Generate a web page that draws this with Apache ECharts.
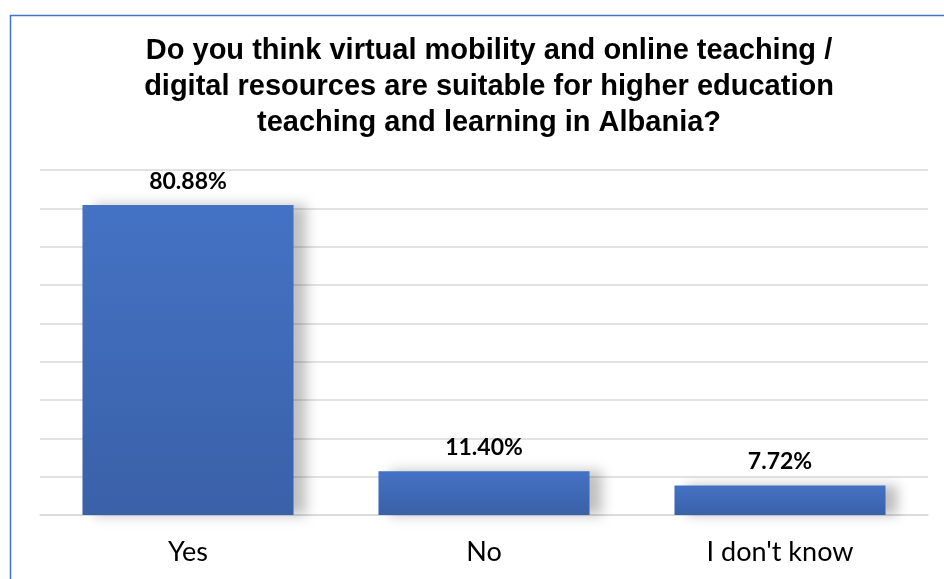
<!DOCTYPE html>
<html><head><meta charset="utf-8">
<script src="https://cdn.jsdelivr.net/npm/echarts@6/dist/echarts.min.js"></script>
<style>html,body{margin:0;padding:0;background:#fff}#c{width:944px;height:579px}</style>
</head><body><div id="c"></div>
<script>
const categories = ['Yes', 'No', "I don't know"];
const values = [80.88, 11.40, 7.72];
const titleLines = ['Do you think virtual mobility and online teaching /', 'digital resources are suitable for higher education', 'teaching and learning in Albania?'];

const chart = echarts.init(document.getElementById('c'), null, {renderer: 'canvas'});
chart.setOption({
  animation: false,
  backgroundColor: '#fff',
  graphic: [
    {type: 'polyline', shape: {points: [[10.5, 600], [10.5, 15.5], [960, 15.5]]}, style: {stroke: '#4472C4', lineWidth: 1.5, fill: null}},
    {type: 'text', x: 489, y: 33, style: {text: titleLines.join('\n'), font: 'bold 29px "Liberation Sans", Arial, sans-serif', fill: '#000', textAlign: 'center', lineHeight: 36}}
  ],
  grid: {left: 40, right: 16, top: 170, bottom: 64},
  xAxis: {
    type: 'category', data: categories,
    axisLine: {show: true, lineStyle: {color: '#d9d9d9', width: 1.5}},
    axisTick: {show: false},
    axisLabel: {color: '#000', fontSize: 27, fontFamily: 'Lato, "Open Sans", sans-serif', margin: 24}
  },
  yAxis: {
    type: 'value', min: 0, max: 90, interval: 10,
    axisLabel: {show: false}, axisLine: {show: false}, axisTick: {show: false},
    splitLine: {lineStyle: {color: '#d9d9d9', width: 1.5}}
  },
  series: [{
    type: 'bar', data: values, barWidth: '71.3%',
    itemStyle: {
      color: new echarts.graphic.LinearGradient(0, 0, 0, 1, [{offset: 0, color: '#4472C4'}, {offset: 1, color: '#3A61A8'}]),
      shadowColor: 'rgba(0,0,0,0.25)', shadowBlur: 12, shadowOffsetX: 12, shadowOffsetY: 0
    },
    label: {show: true, position: 'top', distance: 12, formatter: p => p.value.toFixed(2) + '%', color: '#000', fontWeight: 'bold', fontSize: 23, fontFamily: 'Lato, "Open Sans", sans-serif'}
  }]
});
</script></body></html>
